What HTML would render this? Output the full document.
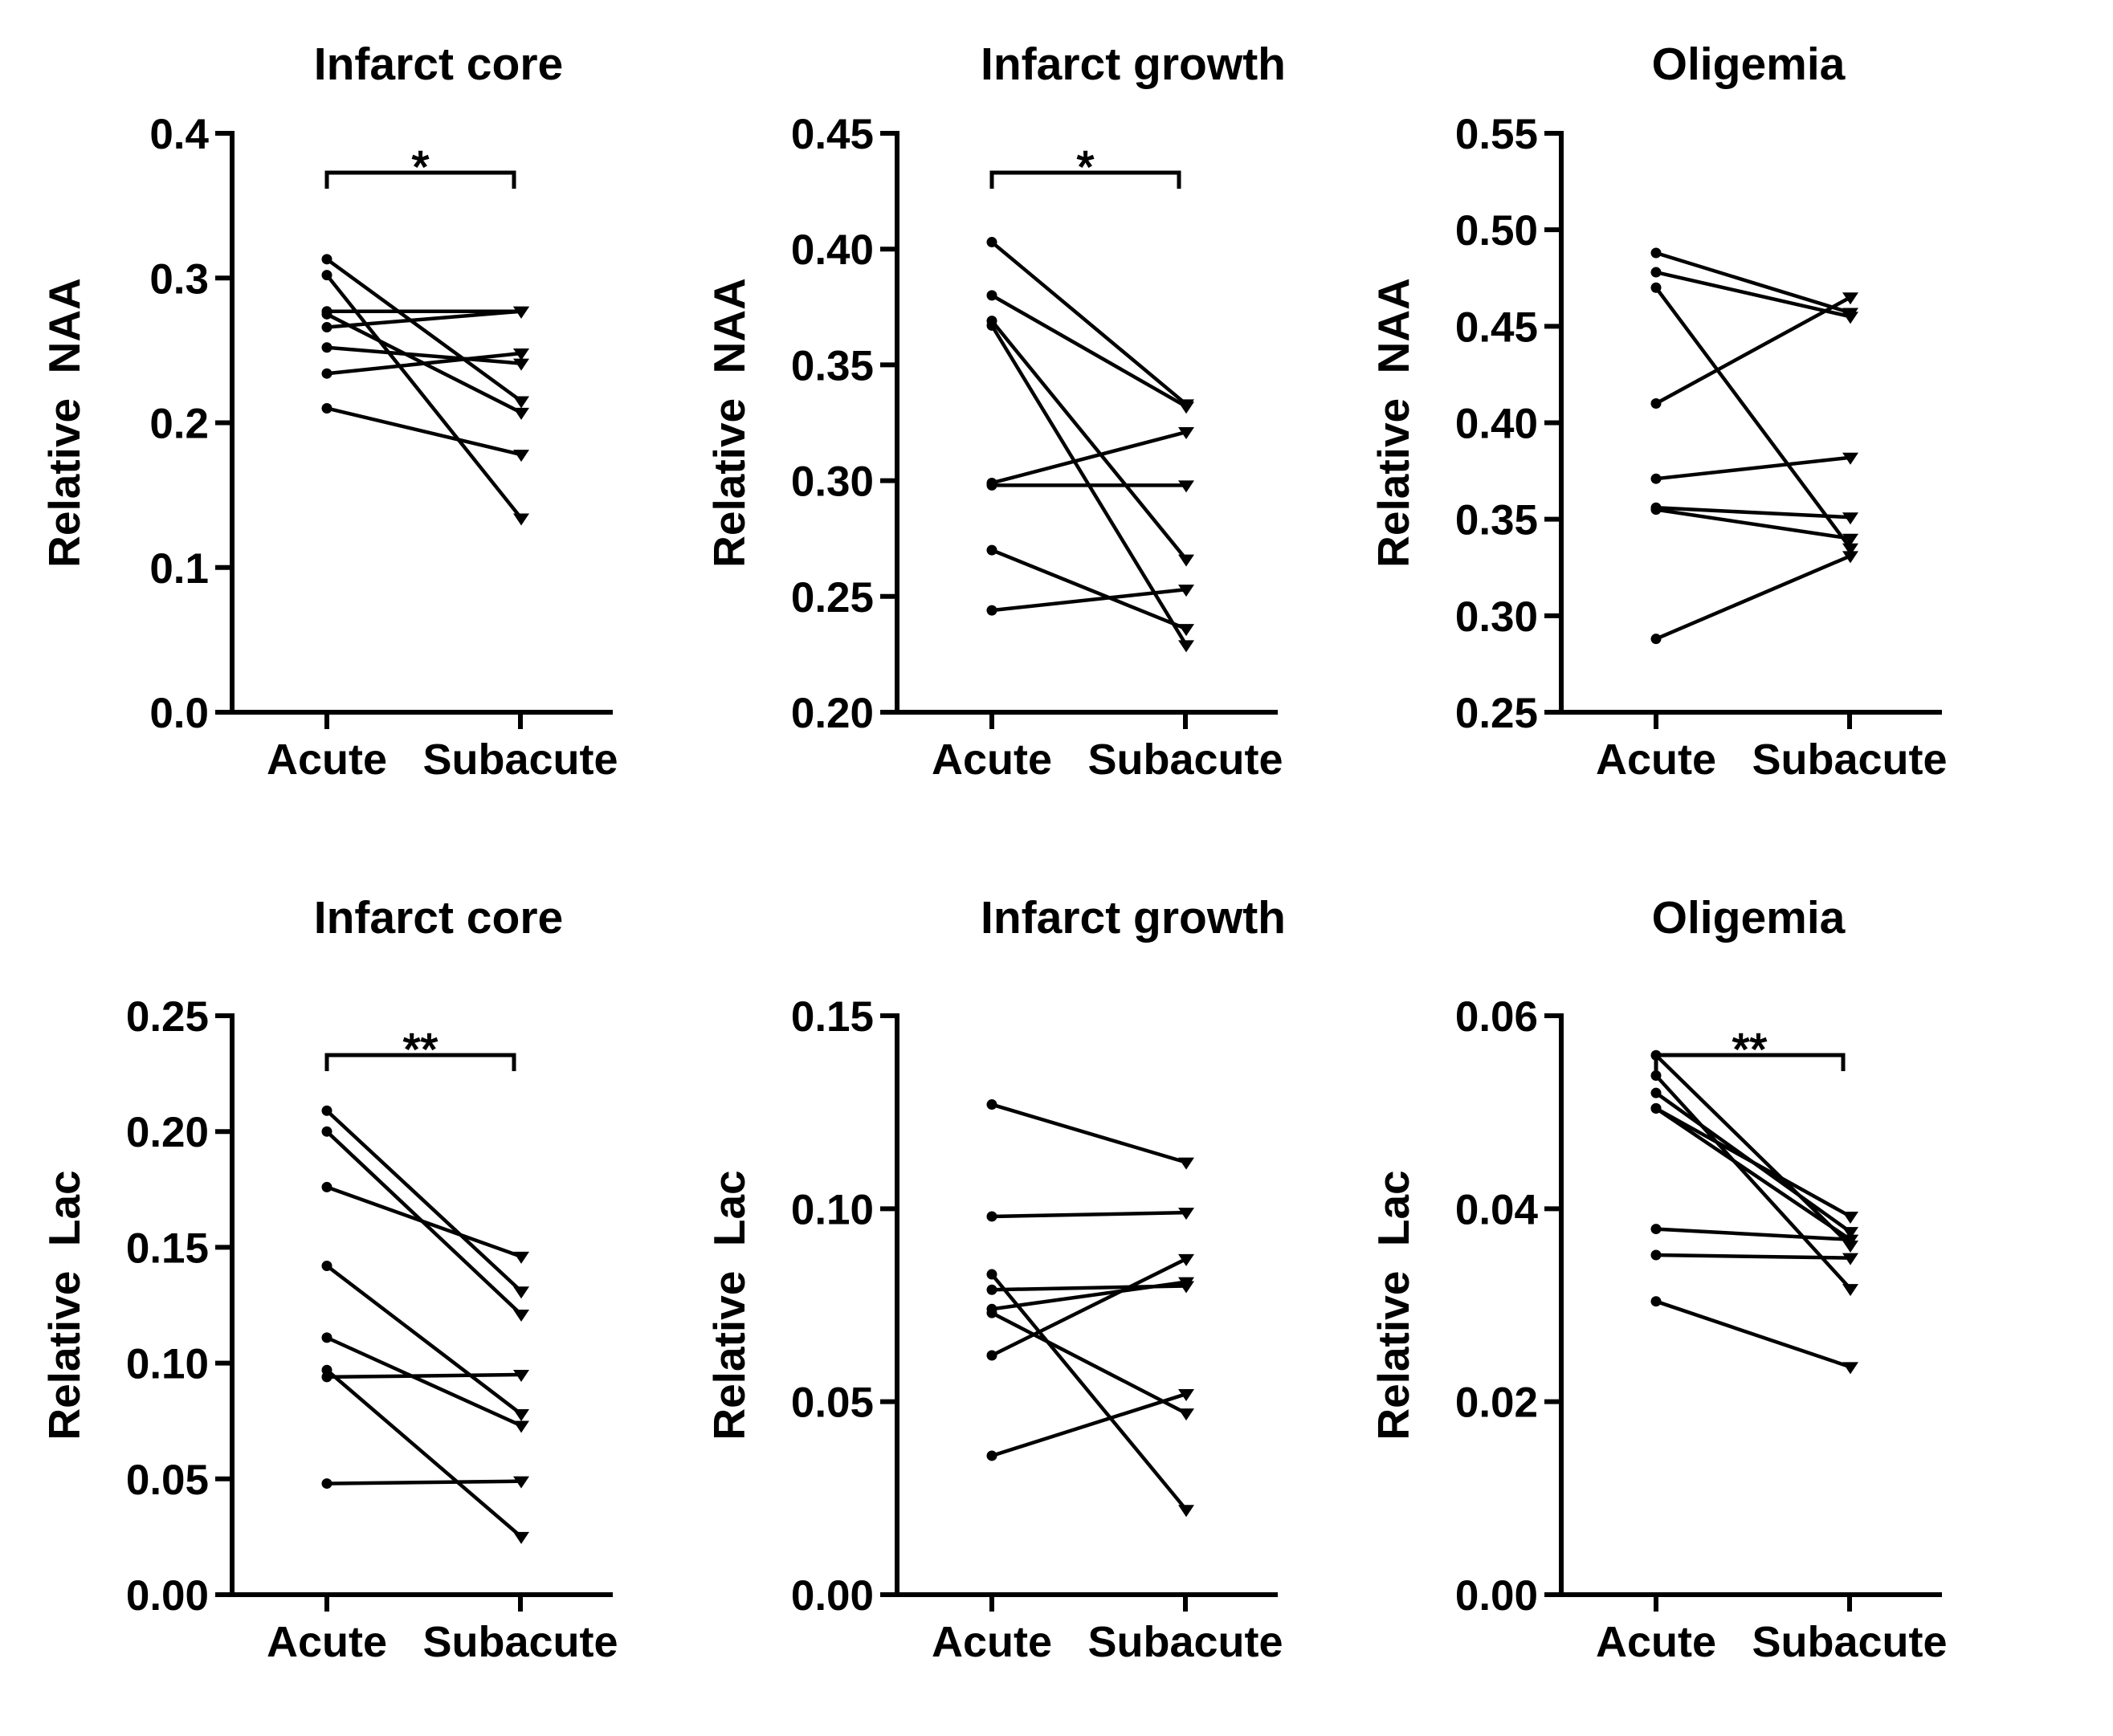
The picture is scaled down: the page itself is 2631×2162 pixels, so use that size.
<!DOCTYPE html>
<html><head><meta charset="utf-8"><style>
body{margin:0;background:#fff}
svg{display:block}
text{font-family:"Liberation Sans",Arial,sans-serif;font-weight:bold;fill:#000}
</style></head><body>
<svg id="chart" width="2631" height="2162" viewBox="0 0 2631 2162" xmlns="http://www.w3.org/2000/svg"></svg>
<script>
const categories = ["Acute", "Subacute"];
const titles = ["Infarct core", "Infarct growth", "Oligemia", "Infarct core", "Infarct growth", "Oligemia"];
const yTitles = ["Relative  NAA", "Relative  NAA", "Relative  NAA", "Relative  Lac", "Relative  Lac", "Relative  Lac"];
const yMin = [0, 0.20, 0.25, 0, 0, 0];
const yMax = [0.4, 0.45, 0.55, 0.25, 0.15, 0.06];
const tickLabels = [
  ["0.0","0.1","0.2","0.3","0.4"],
  ["0.20","0.25","0.30","0.35","0.40","0.45"],
  ["0.25","0.30","0.35","0.40","0.45","0.50","0.55"],
  ["0.00","0.05","0.10","0.15","0.20","0.25"],
  ["0.00","0.05","0.10","0.15"],
  ["0.00","0.02","0.04","0.06"]
];
const sigLabels = ["*", "*", "", "**", "", "**"];
const acute1 = [0.313,0.302,0.277,0.275,0.266,0.252,0.234,0.210];
const subacute1 = [0.215,0.134,0.277,0.207,0.277,0.241,0.248,0.178];
const acute2 = [0.403,0.380,0.369,0.367,0.299,0.298,0.270,0.244];
const subacute2 = [0.333,0.332,0.266,0.229,0.321,0.298,0.236,0.253];
const acute3 = [0.488,0.478,0.470,0.410,0.371,0.356,0.355,0.288];
const subacute3 = [0.457,0.455,0.335,0.465,0.382,0.351,0.340,0.331];
const acute4 = [0.209,0.200,0.176,0.142,0.111,0.097,0.094,0.048];
const subacute4 = [0.131,0.121,0.146,0.078,0.073,0.025,0.095,0.049];
const acute5 = [0.127,0.098,0.083,0.079,0.074,0.073,0.062,0.036];
const subacute5 = [0.112,0.099,0.022,0.080,0.081,0.047,0.087,0.052];
const acute6 = [0.0559,0.0538,0.0520,0.0504,0.0504,0.0379,0.0352,0.0304];
const subacute6 = [0.0362,0.0317,0.0376,0.0392,0.0368,0.0368,0.0349,0.0236];
const acuteAll = [acute1,acute2,acute3,acute4,acute5,acute6];
const subAll = [subacute1,subacute2,subacute3,subacute4,subacute5,subacute6];

const NS = "http://www.w3.org/2000/svg";
const svg = document.getElementById("chart");
function mk(tag, attrs, parent, txt){
  const e = document.createElementNS(NS, tag);
  for (const k in attrs) e.setAttribute(k, attrs[k]);
  if (txt !== undefined) e.textContent = txt;
  (parent||svg).appendChild(e);
  return e;
}
const axisX = [289, 1117, 1944];
const rowTop = [166, 1265];
const rowBot = [887, 1986];
const titleY = [99, 1162];
const titleDx = [257, 294, 233];
const catDx = [118, 359];
for (let p = 0; p < 6; p++) {
  const col = p % 3, row = Math.floor(p / 3);
  const ax = axisX[col], top = rowTop[row], bot = rowBot[row];
  const xEnd = ax + 474;
  const g = mk("g", {});
  
  
  const y = v => bot - (v - yMin[p]) / (yMax[p] - yMin[p]) * (bot - top);
  const xc = i => ax + catDx[i];
  const t = mk("text", {x: ax + titleDx[col], y: titleY[row], "font-size": 57, "text-anchor": "middle"}, g, titles[p]);
  
  
  const cy = (top + bot) / 2;
  const yt = mk("text", {x: 0, y: 0, "font-size": 55, "text-anchor": "middle", style: "white-space:pre", transform: `translate(${ax - 190},${cy}) rotate(-90)`}, g, yTitles[p]);
  
  
  const axis = mk("path", {d: `M${ax},${top - 3}V${bot}H${xEnd}`, stroke: "#000", "stroke-width": 6, fill: "none"}, g);
  
  
  const labs = tickLabels[p];
  for (let i = 0; i < labs.length; i++) {
    const v = parseFloat(labs[i]);
    const ty = y(v);
    const tk = mk("line", {x1: ax - 21, x2: ax, y1: ty, y2: ty, stroke: "#000", "stroke-width": 6}, g);
    
    
    const tl = mk("text", {x: ax - 29, y: ty + 19, "font-size": 53, "text-anchor": "end"}, g, labs[i]);
    
    
  }
  for (let i = 0; i < 2; i++) {
    const xt = mk("line", {x1: xc(i), x2: xc(i), y1: bot, y2: bot + 21, stroke: "#000", "stroke-width": 6}, g);
    
    
    const cl = mk("text", {x: xc(i), y: bot + 77, "font-size": 54, "text-anchor": "middle"}, g, categories[i]);
    
    
  }
  if (sigLabels[p]) {
    const by = top + 49;
    const br = mk("path", {d: `M${xc(0)},${by + 20}V${by}H${xc(1) - 8}V${by + 20}`, stroke: "#000", "stroke-width": 5, fill: "none"}, g);
    
    
    const st = mk("text", {x: (xc(0) + xc(1)) / 2 - 4, y: by + 12, "font-size": 56, "text-anchor": "middle", stroke: "#000", "stroke-width": 1.5, style: "font-weight:normal"}, g, sigLabels[p]);
    
    
  }
  const A = acuteAll[p], S = subAll[p];
  for (let k = 0; k < A.length; k++) {
    const x1 = xc(0), x2 = xc(1) + 1, y1 = y(A[k]), y2 = y(S[k]);
    const ln = mk("line", {x1, y1, x2, y2, stroke: "#000", "stroke-width": 4.5}, g);
    
    
    const c = mk("circle", {cx: x1, cy: y1, r: 6.5, fill: "#000"}, g);
    
    
    const tri = mk("path", {d: `M${x2 - 10},${y2 - 6}H${x2 + 10}L${x2},${y2 + 9}Z`, fill: "#000"}, g);
    
    
  }
}
</script>
</body></html>
